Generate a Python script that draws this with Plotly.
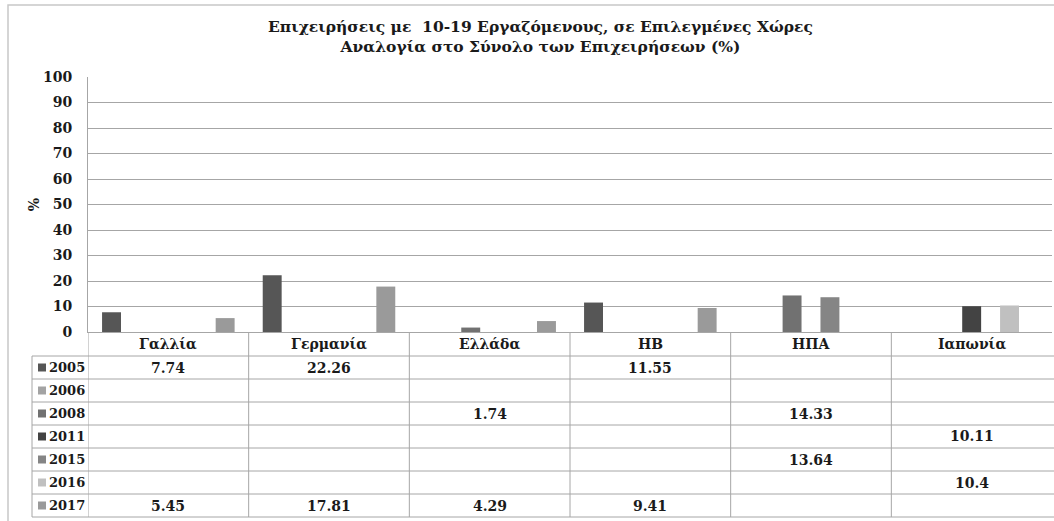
import plotly.graph_objects as go

countries = ["Γαλλία", "Γερμανία", "Ελλάδα", "ΗΒ", "ΗΠΑ", "Ιαπωνία"]
years = ["2005", "2006", "2008", "2011", "2015", "2016", "2017"]
v2005 = [7.74, 22.26, None, 11.55, None, None]
v2006 = [None, None, None, None, None, None]
v2008 = [None, None, 1.74, None, 14.33, None]
v2011 = [None, None, None, None, None, 10.11]
v2015 = [None, None, None, None, 13.64, None]
v2016 = [None, None, None, None, None, 10.4]
v2017 = [5.45, 17.81, 4.29, 9.41, None, None]
series = [v2005, v2006, v2008, v2011, v2015, v2016, v2017]
colors = ["#565656", "#a3a3a3", "#717171", "#434343", "#858585", "#c0c0c0", "#9a9a9a"]

W, H = 1054, 521
ML, MR, MT, MB = 88, 2, 77, 189
PW, PH = W - ML - MR, H - MT - MB
BASE = H - MB  # pixel y of plot bottom
ROWH = 23
HDRH = 24
LEGX = 32
FONT = "DejaVu Serif"
GRID = "#a6a6a6"


def px(p):
    return (p - ML) / PW


def py(p):
    return (BASE - p) / PH


fig = go.Figure()
for yr, vals, c in zip(years, series, colors):
    fig.add_trace(go.Bar(name=yr, x=countries, y=vals, marker_color=c,
                         marker_line_width=0, hoverinfo="x+y+name"))

shapes = []
annotations = []

# outer frame
shapes.append(dict(type="rect", xref="paper", yref="paper",
                   x0=px(8), x1=px(W + 10), y0=py(5), y1=py(H + 10),
                   line=dict(color="#c8c8c8", width=1.5), layer="below"))

# table geometry
hdr_bottom = BASE + HDRH
row_tops = [hdr_bottom + k * ROWH for k in range(len(years) + 1)]
table_bottom = row_tops[-1]

# horizontal lines
for yp in row_tops:
    shapes.append(dict(type="line", xref="paper", yref="paper",
                       x0=px(LEGX), x1=px(W + 5), y0=py(yp), y1=py(yp),
                       line=dict(color=GRID, width=1)))
# legend column left border
shapes.append(dict(type="line", xref="paper", yref="paper",
                   x0=px(LEGX), x1=px(LEGX), y0=py(hdr_bottom), y1=py(table_bottom),
                   line=dict(color=GRID, width=1)))
# column separators
for i in range(len(countries)):
    shapes.append(dict(type="line", xref="x", yref="paper",
                       x0=i - 0.5, x1=i - 0.5, y0=py(BASE), y1=py(table_bottom),
                       line=dict(color=GRID, width=1)))

tfont = dict(family=FONT, size=14, color="#1a1a1a", weight="bold")
lfont = dict(family=FONT, size=13, color="#1a1a1a", weight="bold")

# header row
for i, c in enumerate(countries):
    annotations.append(dict(x=i, xref="x", y=py(BASE + HDRH / 2), yref="paper",
                            text=c, showarrow=False, font=tfont,
                            xanchor="center", yanchor="middle"))

# rows
for r, (yr, vals, c) in enumerate(zip(years, series, colors)):
    yc = py(row_tops[r] + ROWH / 2)
    shapes.append(dict(type="rect", xref="paper", yref="paper",
                       x0=px(38), x1=px(46), y0=py(row_tops[r] + ROWH / 2 - 4),
                       y1=py(row_tops[r] + ROWH / 2 + 4),
                       fillcolor=c, line=dict(width=0)))
    annotations.append(dict(x=px(47), xref="paper", y=yc, yref="paper",
                            text=yr, showarrow=False, font=lfont,
                            xanchor="left", yanchor="middle"))
    for i, v in enumerate(vals):
        if v is not None:
            annotations.append(dict(x=i, xref="x", y=yc, yref="paper",
                                    text=str(v), showarrow=False, font=tfont,
                                    xanchor="center", yanchor="middle"))

# title
annotations.append(dict(x=px(540), xref="paper", y=py(37), yref="paper",
                        text="Επιχειρήσεις με  10-19 Εργαζόμενους, σε Επιλεγμένες Χώρες<br>"
                             "Αναλογία στο Σύνολο των Επιχειρήσεων (%)",
                        showarrow=False, xanchor="center", yanchor="middle",
                        font=dict(family=FONT, size=15.5, color="#1a1a1a", weight="bold")))

fig.update_layout(
    width=W, height=H,
    margin=dict(l=ML, r=MR, t=MT, b=MB, autoexpand=False),
    paper_bgcolor="white", plot_bgcolor="white",
    barmode="group", bargap=0.175, bargroupgap=0,
    showlegend=False,
    shapes=shapes, annotations=annotations,
    xaxis=dict(type="category", range=[-0.5, len(countries) - 0.5],
               showticklabels=False, showgrid=False, zeroline=False,
               showline=True, linecolor=GRID, linewidth=1, ticks=""),
    yaxis=dict(range=[0, 100], dtick=10, tick0=0, showgrid=True, gridcolor=GRID,
               gridwidth=1, zeroline=False, showline=True, linecolor=GRID, linewidth=1,
               ticks="", ticklabelstandoff=12,
               tickfont=dict(family=FONT, size=14, color="#1a1a1a", weight="bold"),
               title=dict(text="%", standoff=0,
                          font=dict(family=FONT, size=14, color="#1a1a1a", weight="bold"))),
)

fig.write_html("out.html", config={"displayModeBar": False},
               post_script="document.body.style.margin='0';document.body.style.overflow='hidden';")
